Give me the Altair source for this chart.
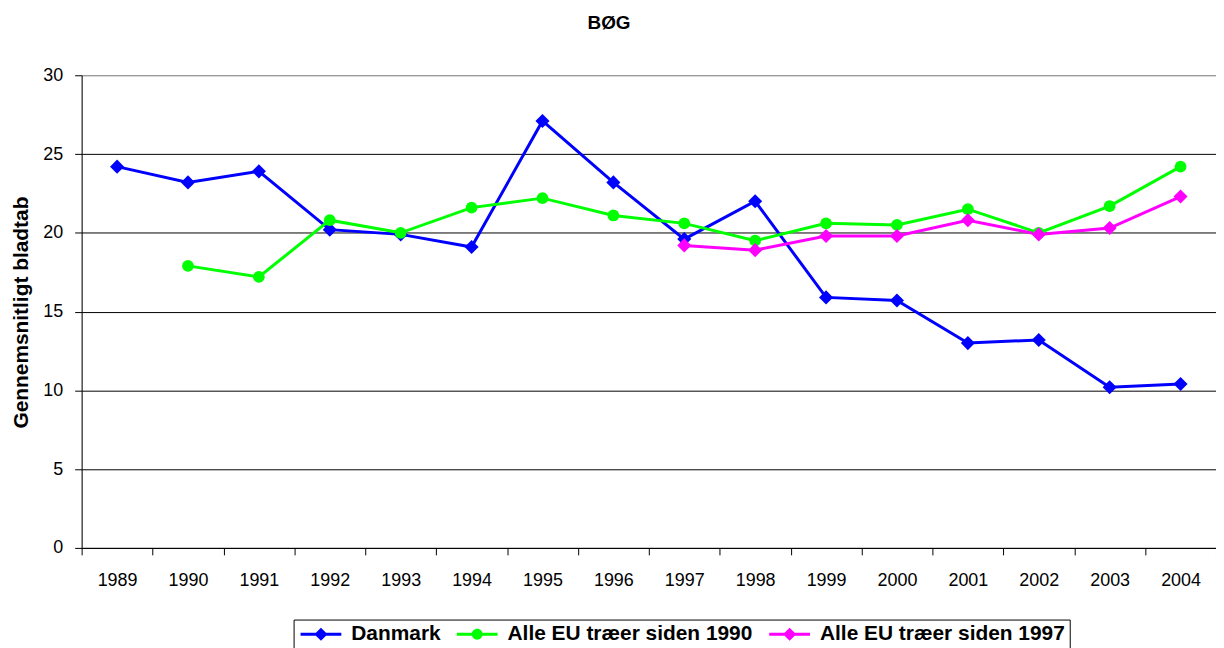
import altair as alt
import pandas as pd

years = [str(y) for y in range(1989, 2005)]
danmark = [24.2, 23.2, 23.9, 20.2, 19.9, 19.1, 27.1, 23.2, 19.6, 22.0, 15.9, 15.7, 13.0, 13.2, 10.2, 10.4]
eu1990_years = years[1:]
eu1990 = [17.9, 17.2, 20.8, 20.0, 21.6, 22.2, 21.1, 20.6, 19.5, 20.6, 20.5, 21.5, 20.0, 21.7, 24.2]
eu1997_years = years[8:]
eu1997 = [19.2, 18.9, 19.8, 19.8, 20.8, 19.9, 20.3, 22.3]
series_names = ["Danmark", "Alle EU træer siden 1990", "Alle EU træer siden 1997"]
series_colors = ["#0000FF", "#00FF00", "#FF00FF"]
series_shapes = ["diamond", "circle", "diamond"]
series_sizes = [200, 140, 200]
y_ticks = [0, 5, 10, 15, 20, 25, 30]

rows = []
for name, ys, vals in [(series_names[0], years, danmark),
                       (series_names[1], eu1990_years, eu1990),
                       (series_names[2], eu1997_years, eu1997)]:
    for yr, v in zip(ys, vals):
        rows.append({"year": yr, "value": v, "series": name})
df = pd.DataFrame(rows)

FONT = "Liberation Sans"

# legend glyphs (unit = 10.5 px): a short bar for the line joined with the marker, all filled
bar = "M-1.95,-0.143L1.95,-0.143L1.95,0.143L-1.95,0.143Z"
diamond_path = bar + "M0,-0.63L0.63,0L0,0.63L-0.63,0Z"
circle_path = bar + "M0.52,0A0.52,0.52,0,1,1,-0.52,0A0.52,0.52,0,1,1,0.52,0Z"
sym_expr = "datum.value === '%s' ? '%s' : '%s'" % (series_names[1], circle_path, diamond_path)

legend = alt.Legend(
    title=None, orient="none", direction="horizontal",
    legendX=213, legendY=547,
    symbolType={"expr": sym_expr}, symbolSize=441, symbolStrokeWidth=0, symbolOpacity=1,
    symbolFillColor={"expr": "scale('color', datum.value)"},
    labelFont=FONT, labelFontSize=21, labelFontWeight="bold", labelColor="black",
    labelOffset=20, labelLimit=0, columnPadding=13, padding=4, symbolOffset=13,
    strokeColor="black", fillColor="white", cornerRadius=0,
)

color_scale = alt.Scale(domain=series_names, range=series_colors)

x = alt.X(
    "year:O",
    scale=alt.Scale(type="band", domain=years, paddingInner=0, paddingOuter=0),
    axis=alt.Axis(title=None, tickBand="extent", labelAngle=0, labelFont=FONT, labelFontSize=18,
                  labelColor="black", labelBaseline="alphabetic", labelPadding=31,
                  tickSize=7, tickColor="black", domainColor="black", grid=False),
)
y = alt.Y(
    "value:Q",
    scale=alt.Scale(domain=[0, 30], nice=False, zero=True),
    axis=alt.Axis(values=y_ticks, title="Gennemsnitligt bladtab", titleFont=FONT, titleFontSize=21,
                  titleFontWeight="bold", titleColor="black", titleAngle=270, titleX=-54, titleY=238,
                  titleBaseline="alphabetic", titleAlign="center",
                  labelFont=FONT, labelFontSize=18, labelColor="black", labelPadding=12,
                  tickSize=7, tickColor="black", domainColor="black",
                  gridColor={"condition": {"test": "datum.value == 30", "value": "#808080"}, "value": "#000000"},
                  gridOpacity=1),
)

lines = alt.Chart(df).mark_line(strokeWidth=3).encode(
    x=x, y=y,
    color=alt.Color("series:N", scale=color_scale, legend=legend, sort=series_names),
)

point_layers = []
for name, shp, sz in zip(series_names, series_shapes, series_sizes):
    point_layers.append(
        alt.Chart(df).transform_filter(alt.datum.series == name)
        .mark_point(filled=True, opacity=1, shape=shp, size=sz)
        .encode(x=x, y=y, color=alt.Color("series:N", scale=color_scale, legend=None, sort=series_names))
    )

chart = alt.layer(lines, *point_layers).properties(
    width=1140, height=475,
    title=alt.TitleParams("BØG", font=FONT, fontSize=19, fontWeight="bold", color="black",
                          anchor="middle", frame="group", dx=-40, baseline="alphabetic", offset=18),
    autosize=alt.AutoSizeParams(type="none"),
    padding={"left": 74, "top": 66, "right": 0, "bottom": 99},
).configure_view(stroke=None).configure(background="white")

chart.save("out.html", embed_options={"renderer": "svg", "actions": False})
